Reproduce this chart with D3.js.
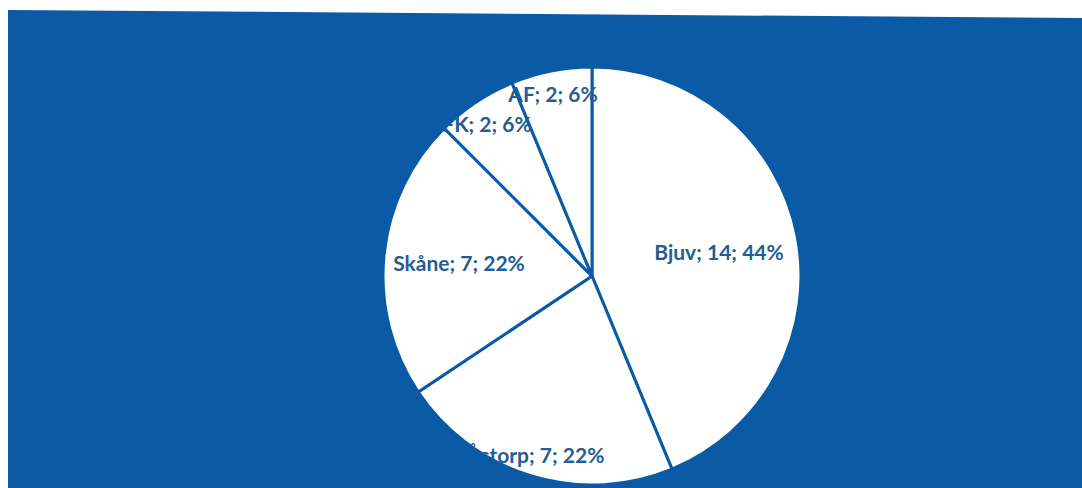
<!DOCTYPE html>
<html>
<head>
<meta charset="utf-8">
<script src="https://cdn.jsdelivr.net/npm/d3@7"></script>
<style>
  html, body { margin: 0; padding: 0; background: #fff; }
  svg { display: block; }
</style>
</head>
<body>
<div id="chart"></div>
<script>
// data
const categories = ['Bjuv', 'Åstorp', 'Skåne', 'FK', 'AF'];
const counts = [14, 7, 7, 2, 2];
const percents = ['44%', '22%', '22%', '6%', '6%'];

const W = 1082, H = 488;
const cx = 592, cy = 276, radius = 209;
const blue = '#0b5aa6';
const textBlue = '#235d92';

const svg = d3.select('#chart').append('svg')
    .attr('width', W)
    .attr('height', H);

// scanned blue panel, slightly skewed
svg.append('polygon')
    .attr('points', [[8, 10], [W, 18], [W, H], [8, H]].map(p => p.join(',')).join(' '))
    .attr('fill', blue);

const data = categories.map((c, i) => ({ name: c, value: counts[i], pct: percents[i] }));

const pie = d3.pie().value(d => d.value).sort(null);
const arc = d3.arc().innerRadius(0).outerRadius(radius);
const arcs = pie(data);

const g = svg.append('g').attr('transform', `translate(${cx},${cy})`);

g.selectAll('path.slice')
    .data(arcs)
    .join('path')
    .attr('class', 'slice')
    .attr('d', arc)
    .attr('fill', '#fff')
    .attr('stroke', blue)
    .attr('stroke-width', 3)
    .attr('stroke-linejoin', 'round');

// labels are clipped to the pie, as in the picture
svg.append('clipPath').attr('id', 'pieClip')
    .append('circle').attr('cx', 0).attr('cy', 0).attr('r', radius);

// label anchors (center, baseline) relative to the pie centre
const labelPos = [[127, -16], [-57, 187], [-133, -5], [-105, -144], [-39, -174]];

g.append('g')
    .attr('clip-path', 'url(#pieClip)')
    .selectAll('text')
    .data(arcs)
    .join('text')
    .attr('x', (d, i) => labelPos[i][0])
    .attr('y', (d, i) => labelPos[i][1])
    .attr('text-anchor', 'middle')
    .attr('fill', textBlue)
    .style('font-family', 'Lato, "Open Sans", sans-serif')
    .style('font-weight', 'bold')
    .style('font-size', '21px')
    .text(d => `${d.data.name}; ${d.data.value}; ${d.data.pct}`);
</script>
</body>
</html>
